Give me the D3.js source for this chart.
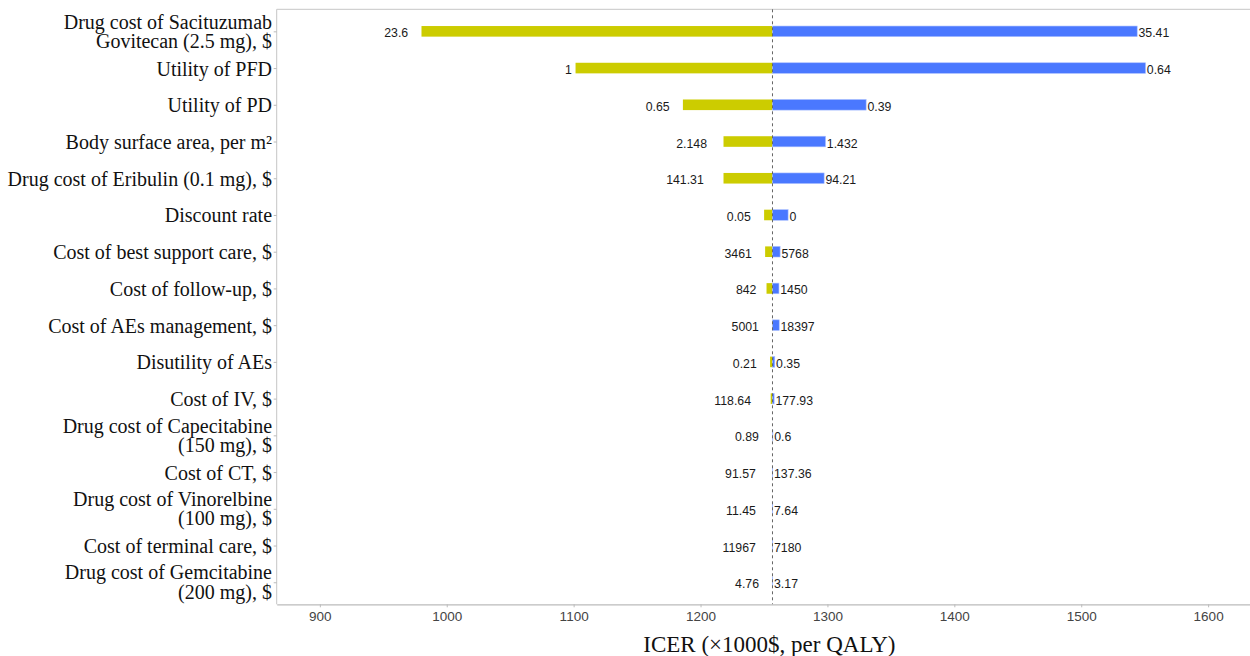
<!DOCTYPE html>
<html>
<head>
<meta charset="utf-8">
<script src="https://cdn.jsdelivr.net/npm/d3@7"></script>
<style>
  html, body { margin: 0; padding: 0; background: #ffffff; }
  svg { display: block; }
</style>
</head>
<body>
<div id="chart"></div>
<script>
// ---------------- data ----------------
const params = [
  "Drug cost of Sacituzumab\nGovitecan (2.5 mg), $",
  "Utility of PFD",
  "Utility of PD",
  "Body surface area, per m²",
  "Drug cost of Eribulin (0.1 mg), $",
  "Discount rate",
  "Cost of best support care, $",
  "Cost of follow-up, $",
  "Cost of AEs management, $",
  "Disutility of AEs",
  "Cost of IV, $",
  "Drug cost of Capecitabine\n(150 mg), $",
  "Cost of CT, $",
  "Drug cost of Vinorelbine\n(100 mg), $",
  "Cost of terminal care, $",
  "Drug cost of Gemcitabine\n(200 mg), $"
];
// ICER at the left (yellow) end and right (blue) end, ×1000$ per QALY
const lowICER  = [980.1, 1101.5, 1186.1, 1218.1, 1218.1, 1250.1, 1250.9, 1252.0, 1256.5, 1254.8, 1255.3, 1256.5, 1256.6, 1256.6, 1256.6, 1256.6];
const highICER = [1544.1, 1550.7, 1330.5, 1298.5, 1297.4, 1269.0, 1262.7, 1261.8, 1262.0, 1258.5, 1258.0, 1257.0, 1256.9, 1256.9, 1256.9, 1256.9];
const lowLabels  = ["23.6", "1", "0.65", "2.148", "141.31", "0.05", "3461", "842", "5001", "0.21", "118.64", "0.89", "91.57", "11.45", "11967", "4.76"];
const highLabels = ["35.41", "0.64", "0.39", "1.432", "94.21", "0", "5768", "1450", "18397", "0.35", "177.93", "0.6", "137.36", "7.64", "7180", "3.17"];
const baseICER = 1256.7;
const xTicks = [900, 1000, 1100, 1200, 1300, 1400, 1500, 1600];
const xDomain = [866, 1633];
const xTitle = "ICER (×1000$, per QALY)";

// ---------------- layout ----------------
const W = 1250, H = 656;
const plot = { left: 276.7, right: 1250, top: 9.3, bottom: 604.3 };
const yellow = "#CCCC00", blue = "#4A78FF";

const svg = d3.select("#chart").append("svg")
  .attr("width", W).attr("height", H);

const x = d3.scaleLinear().domain(xDomain).range([plot.left, plot.right]);
const y = d3.scalePoint().domain(params).range([plot.top, plot.bottom]).padding(0.6);
const barH = 10.6;

// frame lines (top + left)
const frameColor = "#c6c6c6";
svg.append("line").attr("x1", plot.left).attr("x2", plot.right)
  .attr("y1", plot.top).attr("y2", plot.top)
  .attr("stroke", frameColor).attr("stroke-width", 1);
svg.append("line").attr("x1", plot.left).attr("x2", plot.left)
  .attr("y1", plot.top).attr("y2", plot.bottom)
  .attr("stroke", frameColor).attr("stroke-width", 1);

// bars
const rows = params.map((p, i) => ({ p, lo: lowICER[i], hi: highICER[i], lol: lowLabels[i], hil: highLabels[i] }));
const g = svg.append("g");
g.selectAll("rect.lo").data(rows).join("rect")
  .attr("class", "lo")
  .attr("x", d => x(Math.min(d.lo, baseICER)))
  .attr("width", d => Math.abs(x(baseICER) - x(d.lo)))
  .attr("y", d => y(d.p) - barH / 2)
  .attr("height", barH)
  .attr("fill", yellow);
g.selectAll("rect.hi").data(rows).join("rect")
  .attr("class", "hi")
  .attr("x", d => x(baseICER))
  .attr("width", d => Math.max(0, x(d.hi) - x(baseICER)))
  .attr("y", d => y(d.p) - barH / 2)
  .attr("height", barH)
  .attr("fill", blue)
  .attr("stroke", "#a9bfff").attr("stroke-width", 0.6);

// value labels
const valFont = "'Liberation Sans', Arial, Helvetica, sans-serif";
g.selectAll("text.lo").data(rows).join("text")
  .attr("class", "lo")
  .attr("x", d => x(d.lo) - (3.2 * d.lol.length + 0.5))
  .attr("y", d => y(d.p) + 6)
  .attr("text-anchor", "end")
  .attr("font-family", valFont).attr("font-size", 12.3)
  .attr("fill", "#1a1a1a")
  .text(d => d.lol);
g.selectAll("text.hi").data(rows).join("text")
  .attr("class", "hi")
  .attr("x", d => Math.max(x(d.hi), x(baseICER)) + 1.3)
  .attr("y", d => y(d.p) + 6)
  .attr("text-anchor", "start")
  .attr("font-family", valFont).attr("font-size", 12.3)
  .attr("fill", "#1a1a1a")
  .text(d => d.hil);

// baseline dashed line
svg.append("line")
  .attr("x1", x(baseICER)).attr("x2", x(baseICER))
  .attr("y1", plot.top).attr("y2", plot.bottom)
  .attr("stroke", "#666").attr("stroke-width", 1)
  .attr("stroke-dasharray", "3,3");

// x axis
const xAxis = svg.append("g")
  .attr("transform", `translate(0,${plot.bottom})`)
  .call(d3.axisBottom(x).tickValues(xTicks).tickFormat(d3.format("d"))
    .tickSize(3).tickSizeOuter(0).tickPadding(2));
xAxis.select(".domain").attr("stroke", "#bbbbbb").attr("stroke-width", 1.2);
xAxis.selectAll(".tick line").attr("stroke", "#bbbbbb");
xAxis.selectAll(".tick text")
  .attr("font-family", valFont).attr("font-size", 13.5)
  .attr("fill", "#444").attr("dy", null).attr("y", 16.4);

// y axis
const yAxis = svg.append("g")
  .attr("transform", `translate(${plot.left},0)`)
  .call(d3.axisLeft(y).tickSize(3).tickSizeOuter(0).tickPadding(1.7));
yAxis.select(".domain").remove();
yAxis.selectAll(".tick line").attr("stroke", "#bbbbbb");
yAxis.selectAll(".tick text")
  .attr("font-family", "'Liberation Serif', 'Times New Roman', Times, serif")
  .attr("font-size", 20).attr("fill", "#111")
  .attr("dy", null)
  .each(function(d) {
    const t = d3.select(this);
    const lines = d.split("\n");
    const xx = t.attr("x");
    t.text(null);
    if (lines.length === 1) {
      t.append("tspan").attr("x", xx).attr("y", 7).text(lines[0]);
    } else {
      t.append("tspan").attr("x", xx).attr("y", -3.3).text(lines[0]);
      t.append("tspan").attr("x", xx).attr("y", 15.9).text(lines[1]);
    }
  });

// x title
svg.append("text")
  .attr("x", (plot.left + plot.right) / 2 + 6)
  .attr("y", 652)
  .attr("text-anchor", "middle")
  .attr("font-family", "'Liberation Serif', 'Times New Roman', Times, serif")
  .attr("font-size", 23).attr("fill", "#111")
  .text(xTitle);
</script>
</body>
</html>
